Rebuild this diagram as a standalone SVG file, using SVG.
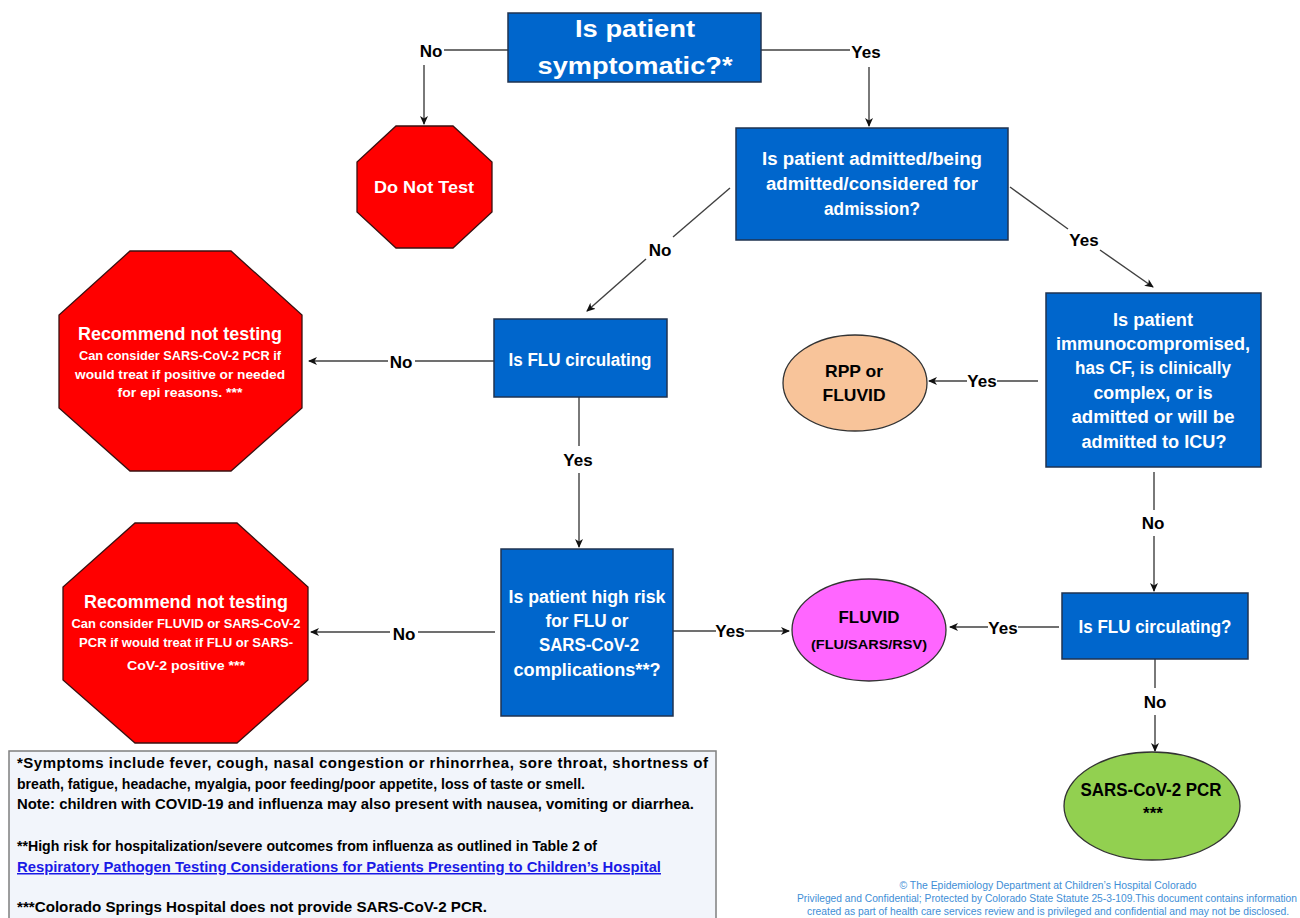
<svg xmlns="http://www.w3.org/2000/svg" width="1300" height="918" viewBox="0 0 1300 918">
<defs>
<marker id="ah" markerWidth="10" markerHeight="10" refX="8" refY="4" orient="auto" markerUnits="userSpaceOnUse">
<path d="M0,0 L9,4 L0,8 L2.5,4 Z" fill="#111"/>
</marker>
<style>
text{font-family:'Liberation Sans Narrow','Liberation Sans',Arial,sans-serif;font-weight:bold;text-anchor:middle}
.box{fill:#0066CC;stroke:#1F3350;stroke-width:1.5}
.oct{fill:#FF0000;stroke:#3A1010;stroke-width:1.3}
.w{fill:#fff}
.k{fill:#000}
.bt{font-size:18px}
.lbl{font-size:17px;fill:#000}
.oh{font-size:18px;fill:#fff}
.os{font-size:13.5px;fill:#fff}
.ln{stroke:#404040;stroke-width:1.4;fill:none}
.ar{stroke:#404040;stroke-width:1.4;fill:none;marker-end:url(#ah)}
.fn{font-size:15px;fill:#000;text-anchor:start}
.ft{font-family:'Liberation Sans',Arial,sans-serif;font-weight:normal;font-size:10px;fill:#3E8ED6}
</style>
</defs>
<rect width="1300" height="918" fill="#fff"/>

<g id="connectors">
<path class="ln" d="M508,50 H444"/>
<path class="ar" d="M424,65 V124"/>
<path class="ln" d="M761,50 H850"/>
<path class="ar" d="M869,67 V126"/>
<path class="ln" d="M730,188 L673,237"/>
<path class="ar" d="M646,259 L587,311"/>
<path class="ln" d="M1010,187 L1068,229"/>
<path class="ar" d="M1100,250 L1153,287"/>
<path class="ln" d="M494,361 H415"/>
<path class="ar" d="M388,361 H309"/>
<path class="ln" d="M579,397 V446"/>
<path class="ar" d="M579,473 V547"/>
<path class="ln" d="M495,632 H418"/>
<path class="ar" d="M390,632 H311"/>
<path class="ln" d="M673,631 H716"/>
<path class="ar" d="M745,631 H789"/>
<path class="ln" d="M1038,381 H997"/>
<path class="ar" d="M967,381 H929"/>
<path class="ln" d="M1154,472 V510"/>
<path class="ar" d="M1154,536 V591"/>
<path class="ln" d="M1059,627 H1018"/>
<path class="ar" d="M988,627 H950"/>
<path class="ln" d="M1155,659 V688"/>
<path class="ar" d="M1155,715 V751"/>
<text class="lbl" x="431" y="57">No</text>
<text class="lbl" x="866" y="58">Yes</text>
<text class="lbl" x="660" y="256">No</text>
<text class="lbl" x="1084" y="246">Yes</text>
<text class="lbl" x="401" y="368">No</text>
<text class="lbl" x="578" y="466">Yes</text>
<text class="lbl" x="404" y="640">No</text>
<text class="lbl" x="730" y="637">Yes</text>
<text class="lbl" x="982" y="387">Yes</text>
<text class="lbl" x="1153" y="529">No</text>
<text class="lbl" x="1003" y="634">Yes</text>
<text class="lbl" x="1155" y="708">No</text>
</g>

<g id="symptomatic">
<rect class="box" x="508" y="13" width="253" height="69"/>
<text class="w" x="635" y="37" font-size="24" textLength="120" lengthAdjust="spacingAndGlyphs">Is patient</text>
<text class="w" x="635" y="74" font-size="24" textLength="195" lengthAdjust="spacingAndGlyphs">symptomatic?*</text>
</g>

<g id="do-not-test">
<polygon class="oct" points="396,126 453,126 492,162 492,212 453,248 396,248 357,212 357,162"/>
<text class="w" x="424" y="193" font-size="16.5" textLength="100" lengthAdjust="spacingAndGlyphs">Do Not Test</text>
</g>

<g id="admitted">
<rect class="box" x="736" y="128" width="272" height="112"/>
<text class="w bt" x="872" y="165" textLength="220" lengthAdjust="spacingAndGlyphs">Is patient admitted/being</text>
<text class="w bt" x="872" y="190" textLength="212" lengthAdjust="spacingAndGlyphs">admitted/considered for</text>
<text class="w bt" x="872" y="215" textLength="96" lengthAdjust="spacingAndGlyphs">admission?</text>
</g>

<g id="flu-circulating-1">
<rect class="box" x="494" y="319" width="173" height="78"/>
<text class="w bt" x="580" y="366" textLength="143" lengthAdjust="spacingAndGlyphs">Is FLU circulating</text>
</g>

<g id="recommend-1">
<polygon class="oct" points="130,251 231,251 302,315 302,408 231,471 130,471 59,408 59,315"/>
<text class="oh" x="180" y="340" textLength="204" lengthAdjust="spacingAndGlyphs">Recommend not testing</text>
<text class="os" x="180" y="360" textLength="202" lengthAdjust="spacingAndGlyphs">Can consider SARS-CoV-2 PCR if</text>
<text class="os" x="180" y="379" textLength="210" lengthAdjust="spacingAndGlyphs">would treat if positive or needed</text>
<text class="os" x="180" y="397" textLength="125" lengthAdjust="spacingAndGlyphs">for epi reasons. ***</text>
</g>

<g id="high-risk">
<rect class="box" x="501" y="549" width="172" height="167"/>
<text class="w bt" x="587" y="603" textLength="157" lengthAdjust="spacingAndGlyphs">Is patient high risk</text>
<text class="w bt" x="587" y="627" textLength="83" lengthAdjust="spacingAndGlyphs">for FLU or</text>
<text class="w bt" x="589" y="651" textLength="100" lengthAdjust="spacingAndGlyphs">SARS-CoV-2</text>
<text class="w bt" x="587" y="676" textLength="147" lengthAdjust="spacingAndGlyphs">complications**?</text>
</g>

<g id="recommend-2">
<polygon class="oct" points="135,523 237,523 308,587 308,680 237,743 135,743 63,680 63,587"/>
<text class="oh" x="186" y="608" textLength="204" lengthAdjust="spacingAndGlyphs">Recommend not testing</text>
<text class="os" x="186" y="628" textLength="229" lengthAdjust="spacingAndGlyphs">Can consider FLUVID or SARS-CoV-2</text>
<text class="os" x="186" y="647" textLength="214" lengthAdjust="spacingAndGlyphs">PCR if would treat if FLU or SARS-</text>
<text class="os" x="186" y="670" textLength="118" lengthAdjust="spacingAndGlyphs">CoV-2 positive ***</text>
</g>

<g id="immunocompromised">
<rect class="box" x="1046" y="293" width="215" height="174"/>
<text class="w bt" x="1153" y="326" textLength="80" lengthAdjust="spacingAndGlyphs">Is patient</text>
<text class="w bt" x="1153" y="350" textLength="194" lengthAdjust="spacingAndGlyphs">immunocompromised,</text>
<text class="w bt" x="1153" y="374" textLength="156" lengthAdjust="spacingAndGlyphs">has CF, is clinically</text>
<text class="w bt" x="1153" y="399" textLength="119" lengthAdjust="spacingAndGlyphs">complex, or is</text>
<text class="w bt" x="1153" y="423" textLength="163" lengthAdjust="spacingAndGlyphs">admitted or will be</text>
<text class="w bt" x="1154" y="448" textLength="145" lengthAdjust="spacingAndGlyphs">admitted to ICU?</text>
</g>

<g id="rpp-fluvid">
<ellipse cx="855" cy="383" rx="72" ry="48" fill="#F8C49A" stroke="#333" stroke-width="1.3"/>
<text class="k" x="854" y="377" font-size="17" textLength="58" lengthAdjust="spacingAndGlyphs">RPP or</text>
<text class="k" x="854" y="401" font-size="17" textLength="63" lengthAdjust="spacingAndGlyphs">FLUVID</text>
</g>

<g id="flu-circulating-2">
<rect class="box" x="1062" y="593" width="186" height="66"/>
<text class="w bt" x="1155" y="633" textLength="153" lengthAdjust="spacingAndGlyphs">Is FLU circulating?</text>
</g>

<g id="fluvid">
<ellipse cx="869" cy="630" rx="77" ry="51" fill="#FF66FF" stroke="#333" stroke-width="1.3"/>
<text class="k" x="869" y="623" font-size="17" textLength="61" lengthAdjust="spacingAndGlyphs">FLUVID</text>
<text class="k" x="869" y="649" font-size="13.5" textLength="116" lengthAdjust="spacingAndGlyphs">(FLU/SARS/RSV)</text>
</g>

<g id="sars-pcr">
<ellipse cx="1152" cy="806" rx="88" ry="54" fill="#92D050" stroke="#333" stroke-width="1.3"/>
<text class="k" x="1151" y="796" font-size="17.5" textLength="141" lengthAdjust="spacingAndGlyphs">SARS-CoV-2 PCR</text>
<text class="k" x="1153" y="819" font-size="17">***</text>
</g>

<g id="footnotes">
<rect x="9" y="751" width="707" height="175" fill="#F2F5FB" stroke="#7F7F7F" stroke-width="1.5"/>
<text class="fn" x="17" y="768" textLength="691" lengthAdjust="spacing">*Symptoms include fever, cough, nasal congestion or rhinorrhea, sore throat, shortness of</text>
<text class="fn" x="17" y="789" textLength="568" lengthAdjust="spacingAndGlyphs">breath, fatigue, headache, myalgia, poor feeding/poor appetite, loss of taste or smell.</text>
<text class="fn" x="17" y="809" textLength="677" lengthAdjust="spacingAndGlyphs">Note: children with COVID-19 and influenza may also present with nausea, vomiting or diarrhea.</text>
<text class="fn" x="17" y="851" textLength="580" lengthAdjust="spacingAndGlyphs">**High risk for hospitalization/severe outcomes from influenza as outlined in Table 2 of</text>
<text class="fn" x="17" y="872" textLength="644" lengthAdjust="spacingAndGlyphs" style="fill:#1A1AE6;text-decoration:underline">Respiratory Pathogen Testing Considerations for Patients Presenting to Children’s Hospital</text>
<text class="fn" x="17" y="912" textLength="470" lengthAdjust="spacingAndGlyphs">***Colorado Springs Hospital does not provide SARS-CoV-2 PCR.</text>
</g>

<g id="footer">
<text class="ft" x="1048" y="889" textLength="297" lengthAdjust="spacingAndGlyphs">© The Epidemiology Department at Children’s Hospital Colorado</text>
<text class="ft" x="1047" y="902" textLength="500" lengthAdjust="spacingAndGlyphs">Privileged and Confidential; Protected by Colorado State Statute 25-3-109.This document contains information</text>
<text class="ft" x="1048" y="915" textLength="482" lengthAdjust="spacingAndGlyphs">created as part of health care services review and is privileged and confidential and may not be disclosed.</text>
</g>
</svg>
